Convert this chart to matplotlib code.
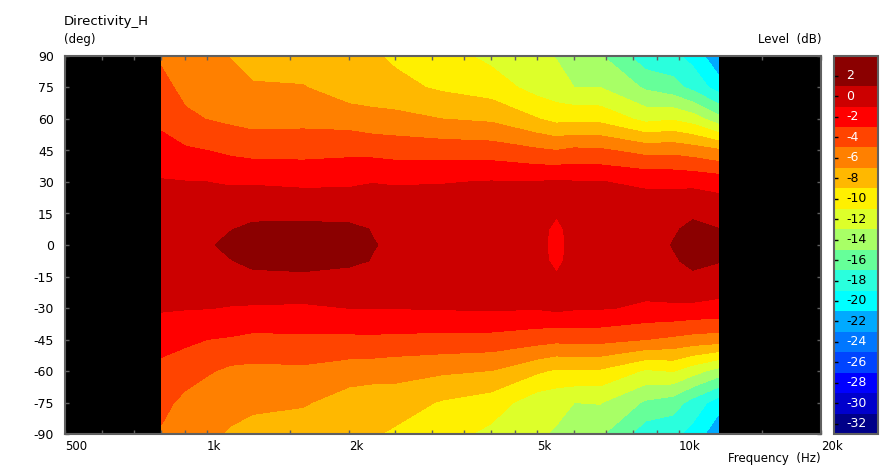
import matplotlib
matplotlib.use("Agg")
import matplotlib.pyplot as plt
from matplotlib.ticker import NullFormatter
import numpy as np

plt.rcParams["font.family"] = "DejaVu Sans"
plt.rcParams["axes.unicode_minus"] = False

# --------------------------------------------------
# Data
# --------------------------------------------------
freqs = [800, 900, 1000, 1120, 1250, 1600, 2000, 2240, 2500, 3150, 4000,
         5000, 5500, 6000, 6800, 8500, 9700, 10700, 12100]
angles = [90, 75, 60, 45, 30, 15, 7.5, 0, -7.5, -15, -30, -45, -60, -75, -90]

# one row per angle, one column per frequency
levels_db = [
    [-5.3, -6.0, -6.6, -7.05, -7.6, -8.0, -8.7, -8.75, -9.3, -10.3, -11.5, -12.7, -13.1, -14.2, -14.8, -18.3, -18.5, -19.7, -22.6],
    [-4.4, -5.6, -6.0, -6.4, -6.85, -6.9, -8.2, -8.2, -8.5, -9.3, -10.0, -11.8, -12.3, -13.0, -13.0, -15.3, -16.2, -17.6, -19.9],
    [-3.45, -4.6, -5.05, -5.4, -5.7, -5.6, -5.87, -6.3, -6.4, -7.0, -7.35, -8.9, -9.6, -9.5, -9.6, -11.6, -11.2, -12.0, -14.2],
    [-2.3, -2.75, -3.0, -3.4, -3.7, -3.7, -3.5, -3.6, -3.8, -3.9, -4.0, -4.7, -5.0, -4.6, -4.7, -5.7, -5.6, -6.0, -6.7],
    [-0.85, -0.95, -1.0, -1.2, -1.2, -1.4, -1.33, -1.08, -1.2, -1.1, -0.9, -0.95, -0.75, -0.9, -0.95, -1.3, -1.4, -1.5, -1.8],
    [-0.3, -0.2, -0.1, 0.4, 0.7, 0.6, 0.55, 0.6, 0.45, 0.3, 0.2, -0.35, -0.9, -0.45, -0.4, 0.0, 0.3, 0.8, 0.4],
    [-0.1, 0.1, 0.5, 0.95, 1.25, 1.4, 1.3, 0.95, 0.75, 0.55, 0.35, -0.55, -1.3, -0.55, -0.35, 0.3, 0.85, 1.3, 1.05],
    [0.0, 0.3, 0.85, 1.3, 1.5, 1.9, 1.7, 1.06, 0.8, 0.7, 0.45, -0.6, -1.4, -0.5, -0.35, 0.4, 1.05, 1.6, 1.5],
    [-0.1, 0.1, 0.5, 0.95, 1.3, 1.45, 1.3, 0.95, 0.75, 0.55, 0.3, -0.55, -1.3, -0.55, -0.35, 0.3, 0.85, 1.3, 1.1],
    [-0.3, -0.2, -0.1, 0.35, 0.75, 0.8, 0.55, 0.6, 0.4, 0.3, 0.15, -0.4, -0.9, -0.45, -0.4, 0.0, 0.35, 0.8, 0.4],
    [-0.8, -0.9, -0.95, -1.1, -1.2, -1.3, -0.98, -0.95, -0.95, -0.85, -0.75, -0.85, -0.55, -0.8, -0.85, -1.3, -1.3, -1.4, -1.6],
    [-2.35, -2.6, -3.0, -3.2, -3.5, -3.4, -3.44, -3.4, -3.5, -3.6, -3.7, -4.2, -4.5, -4.3, -4.4, -5.0, -5.4, -5.8, -6.0],
    [-3.5, -4.2, -4.8, -5.4, -5.5, -5.4, -5.98, -6.1, -6.3, -6.7, -7.05, -8.7, -9.3, -9.2, -9.3, -11.3, -10.9, -12.2, -13.8],
    [-4.5, -5.5, -6.0, -6.4, -6.7, -6.8, -8.0, -8.3, -8.1, -9.2, -10.0, -12.2, -12.5, -13.0, -12.9, -15.3, -16.0, -17.8, -20.0],
    [-5.2, -6.0, -6.6, -7.2, -7.5, -8.1, -8.6, -8.8, -9.3, -10.3, -11.5, -12.8, -13.2, -14.2, -14.7, -18.2, -18.5, -19.7, -22.5],
]

band_edges = [-33, -31, -29, -27, -25, -23, -21, -19, -17, -15, -13, -11,
              -9, -7, -5, -3, -1, 1, 3.94]
band_colors = ["#000088", "#0000CC", "#0000FF", "#0044FF", "#0077FF", "#00AAFF",
               "#00FFFF", "#2AFFDD", "#66FF99", "#A8FF66", "#DDFF2A", "#FFF000",
               "#FFB800", "#FF8000", "#FF4400", "#FF0000", "#CC0000", "#8B0000"]
bar_ticks = [-32, -30, -28, -26, -24, -22, -20, -18, -16, -14, -12, -10,
             -8, -6, -4, -2, 0, 2]
white_labels = [-32, -30, -28, -26, -24, -6, -4, -2, 0, 2]

x_major = [500, 1000, 2000, 5000, 10000, 20000]
x_major_labels = ["500", "1k", "2k", "5k", "10k", "20k"]
x_minor = [600, 700, 800, 900, 1500, 2500, 3000, 3500, 4000, 4500,
           6000, 7000, 8000, 9000, 15000]
y_major = [90, 75, 60, 45, 30, 15, 0, -15, -30, -45, -60, -75, -90]

frame_color = "#606060"

# --------------------------------------------------
# Contour map
# --------------------------------------------------
fig = plt.figure(figsize=(8.92, 4.69), dpi=100)
ax = fig.add_axes([65 / 892, 35 / 469, 756 / 892, 378 / 469])
ax.set_facecolor("black")
ax.set_xscale("log")

cs = ax.contourf(freqs, angles, np.array(levels_db),
                 levels=band_edges, colors=band_colors)

ax.set_xlim(500, 20000)
ax.set_ylim(-90, 90)

ax.set_xticks(x_major, x_major_labels)
ax.set_xticks(x_minor, minor=True)
ax.xaxis.set_minor_formatter(NullFormatter())
ax.set_yticks(y_major, [str(v) for v in y_major])

ax.tick_params(axis="both", which="both", direction="in", top=True, right=True,
               color=frame_color, width=1, length=3)
ax.tick_params(axis="x", pad=4, labelsize=8.5)
ax.tick_params(axis="y", pad=8, labelsize=9)
for lab in ax.get_xticklabels():
    lab.set_ha("left")

for side in ax.spines.values():
    side.set_color(frame_color)
    side.set_linewidth(1.5)

# --------------------------------------------------
# Level bar
# --------------------------------------------------
cax = fig.add_axes([834 / 892, 35 / 469, 44 / 892, 378 / 469])
bar = fig.colorbar(cs, cax=cax, spacing="proportional")
bar.set_ticks(bar_ticks)
cax.yaxis.set_ticks_position("left")
cax.tick_params(axis="y", which="both", direction="in", length=3, width=1, labelleft=False)
cax.minorticks_off()
bar.outline.set_edgecolor(frame_color)
bar.outline.set_linewidth(1.5)

for value, tick in zip(bar_ticks, cax.yaxis.get_major_ticks()):
    col = band_colors[bar_ticks.index(value)]
    rgb = matplotlib.colors.to_rgb(col)
    tick.tick1line.set_color((1 - rgb[0], 1 - rgb[1], 1 - rgb[2]))
    label_col = "white" if value in white_labels else "black"
    cax.text(0.27, value, str(value), transform=cax.get_yaxis_transform(),
             color=label_col, fontsize=9, ha="left", va="center")

# --------------------------------------------------
# Titles
# --------------------------------------------------
fig.text(64 / 892, 1 - 21 / 469, "Directivity_H", fontsize=9.5, ha="left", va="center")
fig.text(64 / 892, 1 - 39 / 469, "(deg)", fontsize=8.5, ha="left", va="center")
fig.text(821 / 892, 1 - 39 / 469, "Level  (dB)", fontsize=8.5, ha="right", va="center")
fig.text(821 / 892, 1 - 458 / 469, "Frequency  (Hz)", fontsize=8.5, ha="right", va="center")

fig.savefig("out.png", dpi=100)
